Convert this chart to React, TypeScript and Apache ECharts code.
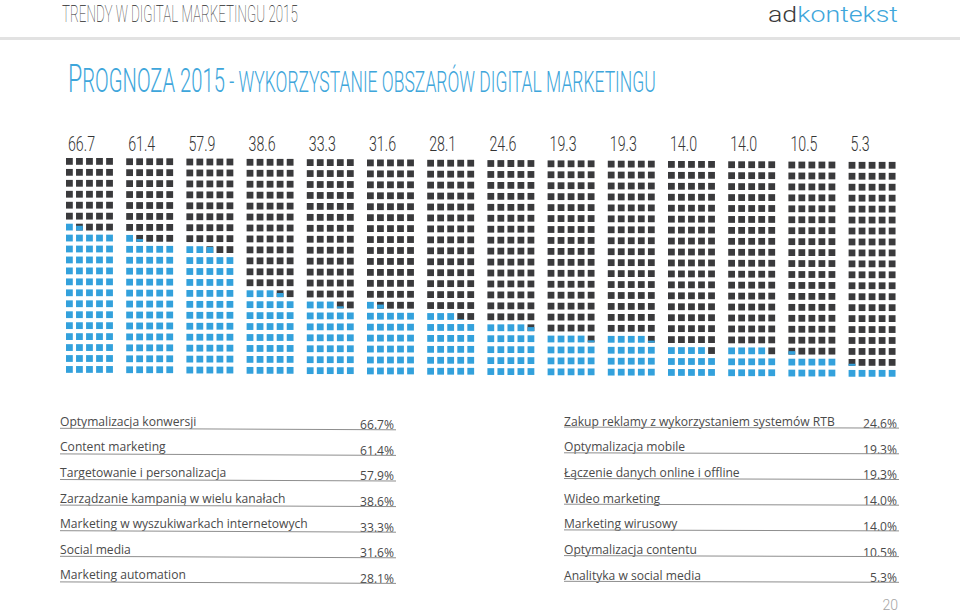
import React, { useEffect, useRef } from "react";
import * as echarts from "echarts";

const headerText = "TRENDY W DIGITAL MARKETINGU 2015";
const titleCap = "P";
const titleMid = "ROGNOZA 2015";
const titleRest = " - WYKORZYSTANIE OBSZARÓW DIGITAL MARKETINGU";
const logoDark = "ad";
const logoBlue = "kontekst";
const pageNumber = "20";

const categories = [
  "Optymalizacja konwersji",
  "Content marketing",
  "Targetowanie i personalizacja",
  "Zarządzanie kampanią w wielu kanałach",
  "Marketing w wyszukiwarkach internetowych",
  "Social media",
  "Marketing automation",
  "Zakup reklamy z wykorzystaniem systemów RTB",
  "Optymalizacja mobile",
  "Łączenie danych online i offline",
  "Wideo marketing",
  "Marketing wirusowy",
  "Optymalizacja contentu",
  "Analityka w social media",
];
const values = [66.7, 61.4, 57.9, 38.6, 33.3, 31.6, 28.1, 24.6, 19.3, 19.3, 14.0, 14.0, 10.5, 5.3];
const leftTableCount = 7;

const DARK = "#3a3a3c";
const BLUE = "#33a1dc";
const TITLE_BLUE = "#3ea6db";
const TEXT = "#4a4a4a";

const ctx = document.createElement("canvas").getContext("2d") as CanvasRenderingContext2D;
function tw(t: string, size: number, weight: number | string, family: string) {
  ctx.font = `${weight} ${size}px ${family}`;
  return ctx.measureText(t).width;
}

export default function App() {
  const ref = useRef<HTMLDivElement>(null);
  useEffect(() => {
    document.body.style.margin = "0";
    const chart = echarts.init(ref.current!, null, { renderer: "svg" });

    const ROB = "Roboto";
    // header
    const hSize = 23.5;
    const hW = 100;
    const hScale = 236 / tw(headerText, hSize, hW, ROB);
    // title
    const tBase = 92;
    const tW = 300;
    const s1 = 39, s2 = 34, s3 = 29.5;
    const w1 = tw(titleCap, s1, tW, ROB);
    const w2 = tw(titleMid, s2, tW, ROB);
    const w3 = tw(titleRest, s3, tW, ROB);
    const tScale = 588 / (w1 + w2 + w3);
    const tx0 = 68;
    // logo
    const lSize = 22;
    const lw1 = tw(logoDark, lSize, 300, ROB);
    const lw2 = tw(logoBlue, lSize, 300, ROB);
    const lScale = 130 / (lw1 + lw2);
    // column labels
    const nSize = 21;
    const nScale = 27 / tw("66.7", nSize, 300, ROB);
    // tables
    const TAB = "'Open Sans'";
    const tabW = 400;
    const tabSize = 13.3;
    const tabScale = 248 / tw("Marketing w wyszukiwarkach internetowych", tabSize, tabW, TAB);

    const cellData: number[][] = [];
    values.forEach((v, c) => {
      for (let k = 0; k < 100; k++) {
        const row = Math.floor(k / 5);
        const j = k % 5;
        const fill = Math.max(0, Math.min(1, v - k));
        cellData.push([c + j / 6, row + 1, fill, c]);
      }
    });
    const labelData = values.map((v, c) => [c, 20, v]);

    const SQ = 6.8;
    const TILT = 0.3;

    const graphics: any[] = [
      { type: "rect", shape: { x: 0, y: 37, width: 960, height: 3 }, style: { fill: "#e2e2e2" } },
      {
        type: "text", x: 62, y: 14.3, scaleX: hScale,
        style: { text: headerText, fontFamily: ROB, fontWeight: hW, fontSize: hSize, fill: "#2a2a2a", verticalAlign: "middle", align: "left" },
      },
      {
        type: "text", x: 768, y: 21.7 - 0.34 * lSize, scaleX: lScale,
        style: { text: logoDark, fontFamily: ROB, fontWeight: 300, fontSize: lSize, fill: "#3a3a3a", verticalAlign: "middle", align: "left" },
      },
      {
        type: "text", x: 768 + lw1 * lScale, y: 21.7 - 0.34 * lSize, scaleX: lScale,
        style: { text: logoBlue, fontFamily: ROB, fontWeight: 300, fontSize: lSize, fill: TITLE_BLUE, verticalAlign: "middle", align: "left" },
      },
      {
        type: "text", x: tx0, y: tBase - 0.34 * s1, scaleX: tScale,
        style: { text: titleCap, fontFamily: ROB, fontWeight: tW, fontSize: s1, fill: TITLE_BLUE, verticalAlign: "middle", align: "left" },
      },
      {
        type: "text", x: tx0 + w1 * tScale, y: tBase - 0.34 * s2, scaleX: tScale,
        style: { text: titleMid, fontFamily: ROB, fontWeight: tW, fontSize: s2, fill: TITLE_BLUE, verticalAlign: "middle", align: "left" },
      },
      {
        type: "text", x: tx0 + (w1 + w2) * tScale, y: tBase - 0.34 * s3, scaleX: tScale,
        style: { text: titleRest, fontFamily: ROB, fontWeight: tW, fontSize: s3, fill: TITLE_BLUE, verticalAlign: "middle", align: "left" },
      },
      {
        type: "text", x: 898, y: 605,
        style: { text: pageNumber, fontFamily: ROB, fontWeight: 300, fontSize: 14, fill: "#a5a5a5", verticalAlign: "middle", align: "right" },
      },
    ];

    categories.forEach((name, i) => {
      const left = i < leftTableCount;
      const r = left ? i : i - leftTableCount;
      const x0 = left ? 60 : 564;
      const x1 = left ? 394 : 897;
      const y = left ? 420.5 + r * 25.6 : 420.3 + r * 25.7;
      const dv = left ? 3.5 : 2.5;
      graphics.push({
        type: "text", x: x0, y, scaleX: tabScale,
        style: { text: name, fontFamily: TAB, fontWeight: tabW, fontSize: tabSize, fill: TEXT, verticalAlign: "middle", align: "left" },
      });
      graphics.push({
        type: "text", x: x1, y: y + dv, scaleX: tabScale,
        style: { text: values[i].toFixed(1) + "%", fontFamily: TAB, fontWeight: tabW, fontSize: tabSize, fill: TEXT, verticalAlign: "middle", align: "right" },
      });
      graphics.push({
        type: "line",
        shape: { x1: x0, y1: y + (left ? 7.8 : 6.8), x2: x1 + 2, y2: y + (left ? 9.3 : 7.8) },
        style: { stroke: "#8e8e8e", lineWidth: 1 },
      });
    });

    const option: any = {
      animation: false,
      backgroundColor: "#ffffff",
      grid: { left: 66, top: 158, width: 14 * 60.2, height: 20 * 10.95 },
      xAxis: { type: "value", min: 0, max: 14, show: false },
      yAxis: { type: "value", min: 0, max: 20, show: false },
      graphic: graphics,
      series: [
        {
          type: "custom",
          clip: false,
          encode: { x: 0, y: 1 },
          data: cellData,
          renderItem: (params: any, api: any) => {
            const fill = api.value(2);
            const c = api.value(3);
            const p = api.coord([api.value(0), api.value(1)]);
            const x = p[0];
            const y = p[1] + c * TILT;
            const children: any[] = [];
            if (fill < 1) {
              children.push({ type: "rect", shape: { x, y, width: SQ, height: SQ }, style: { fill: DARK } });
            }
            if (fill > 0) {
              children.push({
                type: "rect",
                shape: { x, y: y + SQ * (1 - fill), width: SQ, height: SQ * fill },
                style: { fill: BLUE },
              });
            }
            return { type: "group", children };
          },
        },
        {
          type: "custom",
          clip: false,
          encode: { x: 0, y: 1 },
          data: labelData,
          renderItem: (params: any, api: any) => {
            const p = api.coord([api.value(0), api.value(1)]);
            return {
              type: "text",
              x: p[0] + 2,
              y: p[1] - 15.1,
              scaleX: nScale,
              style: {
                text: Number(api.value(2)).toFixed(1),
                fontFamily: ROB,
                fontWeight: 300,
                fontSize: nSize,
                fill: "#353535",
                verticalAlign: "middle",
                align: "left",
              },
            };
          },
        },
      ],
    };
    chart.setOption(option);
    return () => chart.dispose();
  }, []);
  return <div ref={ref} style={{ width: 960, height: 613 }} />;
}
